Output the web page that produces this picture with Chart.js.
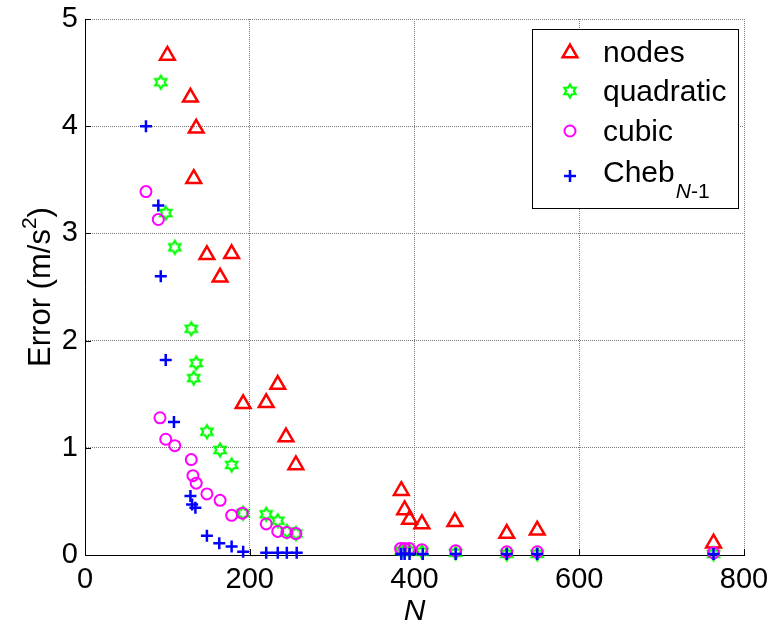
<!DOCTYPE html>
<html>
<head>
<meta charset="utf-8">
<script src="https://cdn.jsdelivr.net/npm/chart.js@4"></script>
<style>
  html, body { margin: 0; padding: 0; background: #fff; }
  canvas { display: block; }
</style>
</head>
<body>
<canvas id="c" width="775" height="628" style="width:775px;height:628px"></canvas>
<script>
// Interpolation error versus number of samples N
const nodesN   = [100, 128, 135, 132, 148, 164, 178, 192, 220, 234, 244, 256, 384, 388, 394, 409, 449, 512, 549, 763];
const nodesErr = [4.66, 4.27, 3.98, 3.51, 2.80, 2.59, 2.81, 1.41, 1.42, 1.59, 1.10, 0.84, 0.60, 0.42, 0.33, 0.29, 0.31, 0.20, 0.23, 0.11];

const quadN   = [92, 98, 109, 129, 135, 132, 148, 164, 178, 192, 220, 234, 245, 256, 384, 388, 394, 409, 450, 512, 549, 763];
const quadErr = [4.41, 3.19, 2.87, 2.11, 1.79, 1.65, 1.15, 0.98, 0.84, 0.39, 0.38, 0.32, 0.22, 0.20, 0.04, 0.04, 0.04, 0.03, 0.02, 0.01, 0.01, 0.01];

const cubicN   = [74, 89, 91, 98, 109, 129, 131, 135, 148, 164, 178, 191, 220, 234, 245, 256, 383, 388, 394, 409, 450, 512, 549, 763];
const cubicErr = [3.39, 3.13, 1.28, 1.08, 1.02, 0.89, 0.74, 0.67, 0.57, 0.51, 0.37, 0.39, 0.29, 0.22, 0.21, 0.20, 0.06, 0.06, 0.06, 0.05, 0.04, 0.03, 0.03, 0.02];

const chebN   = [74, 89, 92, 98, 108, 128, 130, 134, 148, 163, 178, 192, 220, 234, 245, 257, 384, 388, 394, 410, 450, 512, 549, 763];
const chebErr = [4.00, 3.26, 2.60, 1.82, 1.24, 0.55, 0.47, 0.44, 0.18, 0.11, 0.08, 0.03, 0.02, 0.02, 0.02, 0.02, 0.01, 0.01, 0.01, 0.01, 0.01, 0.01, 0.01, 0.01];

const xTicks = [0, 200, 400, 600, 800];
const yTicks = [0, 1, 2, 3, 4, 5];
const seriesNames = ['nodes', 'quadratic', 'cubic', 'Cheb'];

const FONT = "'Liberation Sans', Arial, Helvetica, sans-serif";
const RED = '#ff0000', GREEN = '#00ff00', MAGENTA = '#ff00ff', BLUE = '#0000ff';

function pts(xs, ys) { return xs.map((x, i) => ({ x: x, y: ys[i] })); }

// six-pointed star outline used as the "quadratic" marker
function hexagramPath(g, cx, cy, r) {
  g.beginPath();
  for (let k = 0; k < 12; k++) {
    const a = -Math.PI / 2 + k * Math.PI / 6;
    const rr = (k % 2 === 0) ? r : r / Math.sqrt(3);
    const x = cx + rr * Math.cos(a), y = cy + rr * Math.sin(a);
    if (k === 0) g.moveTo(x, y); else g.lineTo(x, y);
  }
  g.closePath();
}
function hexagramImage(r, color, lw) {
  const s = Math.ceil(2 * r + 2 * lw + 2);
  const cv = document.createElement('canvas');
  cv.width = s; cv.height = s;
  const g = cv.getContext('2d');
  g.strokeStyle = color; g.lineWidth = lw; g.lineJoin = 'miter';
  hexagramPath(g, s / 2, s / 2, r);
  g.stroke();
  return cv;
}
const hexImg = hexagramImage(6.5, GREEN, 2.2);

// keep the plot frame where the layout padding puts it
function noScalePadding(s) {
  s.paddingLeft = 0; s.paddingRight = 0; s.paddingTop = 0; s.paddingBottom = 0;
}

const annotate = {
  id: 'annotate',
  afterDraw(chart) {
    const ctx = chart.ctx;
    const xs = chart.scales.x, ys = chart.scales.y;
    const a = chart.chartArea;
    ctx.save();

    // inward tick marks on the left and bottom axes
    ctx.strokeStyle = '#000'; ctx.lineWidth = 1;
    ctx.beginPath();
    xTicks.forEach(v => {
      const px = Math.round(xs.getPixelForValue(v)) + 0.5;
      ctx.moveTo(px, a.bottom); ctx.lineTo(px, a.bottom - 6);
    });
    yTicks.forEach(v => {
      const py = Math.round(ys.getPixelForValue(v)) + 0.5;
      ctx.moveTo(a.left, py); ctx.lineTo(a.left + 6, py);
    });
    ctx.stroke();

    ctx.fillStyle = '#000';
    // x-axis title
    ctx.font = 'italic 30px ' + FONT;
    ctx.textAlign = 'center'; ctx.textBaseline = 'alphabetic';
    ctx.fillText('N', (a.left + a.right) / 2, 620);

    // y-axis title with superscript
    ctx.save();
    ctx.translate(50, (a.top + a.bottom) / 2);
    ctx.rotate(-Math.PI / 2);
    ctx.textAlign = 'left';
    const main = 'Error (m/s';
    ctx.font = '31px ' + FONT;
    const w1 = ctx.measureText(main).width;
    ctx.font = '21px ' + FONT;
    const w2 = ctx.measureText('2').width;
    ctx.font = '31px ' + FONT;
    const w3 = ctx.measureText(')').width;
    let x0 = -(w1 + w2 + w3) / 2;
    ctx.fillText(main, x0, 0);
    ctx.font = '21px ' + FONT;
    ctx.fillText('2', x0 + w1, -14);
    ctx.font = '31px ' + FONT;
    ctx.fillText(')', x0 + w1 + w2, 0);
    ctx.restore();

    // legend
    const bx = 532.5, by = 29.5, bw = 206, bh = 179;
    ctx.fillStyle = '#fff';
    ctx.fillRect(bx, by, bw, bh);
    ctx.strokeStyle = '#000'; ctx.lineWidth = 1;
    ctx.strokeRect(bx, by, bw, bh);

    const mx = 570, tx = 603;
    const my = [51, 91, 131, 176];
    const tb = [62, 101, 141, 182];

    // triangle
    ctx.strokeStyle = RED; ctx.lineWidth = 2.5; ctx.lineJoin = 'miter';
    Chart.helpers.drawPoint(ctx, { pointStyle: 'triangle', radius: 8.5, rotation: 0, borderWidth: 2.5 }, mx, my[0] + 2);
    // hexagram
    ctx.drawImage(hexImg, mx - hexImg.width / 2, my[1] - hexImg.height / 2);
    // circle
    ctx.strokeStyle = MAGENTA; ctx.lineWidth = 2;
    ctx.beginPath(); ctx.arc(mx, my[2], 5.5, 0, Math.PI * 2); ctx.stroke();
    // plus
    ctx.strokeStyle = BLUE; ctx.lineWidth = 2.5;
    ctx.beginPath();
    ctx.moveTo(mx - 6, my[3]); ctx.lineTo(mx + 6, my[3]);
    ctx.moveTo(mx, my[3] - 6); ctx.lineTo(mx, my[3] + 6);
    ctx.stroke();

    ctx.fillStyle = '#000';
    ctx.textAlign = 'left'; ctx.textBaseline = 'alphabetic';
    ctx.font = '30px ' + FONT;
    for (let i = 0; i < 4; i++) ctx.fillText(seriesNames[i], tx, tb[i]);
    const wc = ctx.measureText(seriesNames[3]).width;
    ctx.font = 'italic 21px ' + FONT;
    ctx.fillText('N', tx + wc + 1, 198);
    const wn = ctx.measureText('N').width;
    ctx.font = '21px ' + FONT;
    ctx.fillText('-1', tx + wc + 1 + wn, 198);

    ctx.restore();
  }
};

const tickFont = { family: FONT, size: 29, lineHeight: 1 };

new Chart(document.getElementById('c'), {
  type: 'scatter',
  data: {
    datasets: [
      { label: seriesNames[0], data: pts(nodesN, nodesErr), order: 4, clip: false,
        pointStyle: 'triangle', pointRadius: 8.5, pointHoverRadius: 8.5,
        borderColor: RED, backgroundColor: 'rgba(0,0,0,0)', pointBorderWidth: 2.5 },
      { label: seriesNames[1], data: pts(quadN, quadErr), order: 3, clip: false,
        pointStyle: hexImg, pointRadius: 7, pointHoverRadius: 7,
        borderColor: GREEN, backgroundColor: GREEN },
      { label: seriesNames[2], data: pts(cubicN, cubicErr), order: 2, clip: false,
        pointStyle: 'circle', pointRadius: 5.5, pointHoverRadius: 5.5,
        borderColor: MAGENTA, backgroundColor: 'rgba(0,0,0,0)', pointBorderWidth: 2 },
      { label: seriesNames[3], data: pts(chebN, chebErr), order: 1, clip: false,
        pointStyle: 'cross', pointRadius: 6, pointHoverRadius: 6,
        borderColor: BLUE, backgroundColor: BLUE, pointBorderWidth: 2.5 }
    ]
  },
  options: {
    responsive: false,
    devicePixelRatio: 1,
    animation: false,
    events: [],
    layout: { padding: { top: 19, right: 31, left: 0, bottom: 0 } },
    plugins: { legend: { display: false }, tooltip: { enabled: false }, title: { display: false } },
    scales: {
      x: {
        type: 'linear', min: 0, max: 800,
        afterFit(s) { s.height = 73; noScalePadding(s); },
        afterBuildTicks(s) { s.ticks = xTicks.map(v => ({ value: v })); },
        ticks: { font: tickFont, color: '#000', padding: 10, maxRotation: 0, autoSkip: false },
        grid: { color: '#7a7a7a', lineWidth: 1, drawTicks: false },
        border: { color: '#000', width: 1, dash: [1, 1] }
      },
      y: {
        type: 'linear', min: 0, max: 5,
        afterFit(s) { s.width = 85; noScalePadding(s); },
        afterBuildTicks(s) { s.ticks = yTicks.map(v => ({ value: v })); },
        ticks: { font: tickFont, color: '#000', padding: 7, autoSkip: false },
        grid: { color: '#7a7a7a', lineWidth: 1, drawTicks: false },
        border: { color: '#000', width: 1, dash: [1, 1] }
      }
    }
  },
  plugins: [annotate]
});
</script>
</body>
</html>
